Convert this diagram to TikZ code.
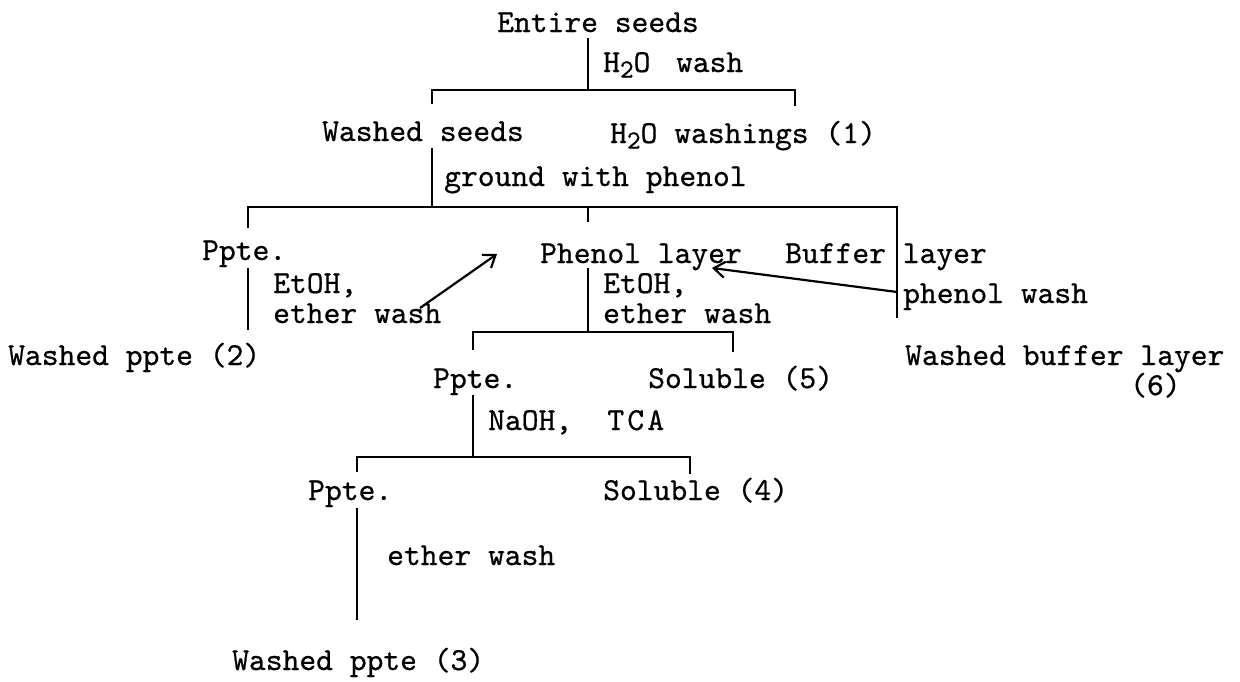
\documentclass[tikz,border=0pt]{standalone}
\usepackage{fontspec}
\usetikzlibrary{arrows.meta}
\newfontfamily\tw{lmmono10-regular.otf}[FakeBold=0.6]
\newcommand{\Hsub}{H\raisebox{-0.4ex}{\fontsize{26}{26}\selectfont 2}O}
\begin{document}
\begin{tikzpicture}[x=1pt,y=-1pt,
  lbl/.style={anchor=base west,inner sep=0pt,font=\fontsize{32}{36}\selectfont\tw},
  ln/.style={line width=2.5pt},
  arr/.style={line width=2.2pt,-{Straight Barb[length=11pt,width=16pt,line width=2.2pt]}}]
\useasboundingbox (0,0) rectangle (1240,681);
% texts
\node[lbl] (entire) at (497,32) {Entire seeds};
\node[lbl] (h2owash) at (603,72) {\Hsub\hspace{0.8em}wash};
\node[lbl] (washedseeds) at (322,141) {Washed seeds};
\node[lbl] (washings) at (610,143) {\Hsub{} washings (1)};
\node[lbl] (ground) at (444,186) {ground with phenol};
\node[lbl] (pptea) at (202,260) {Ppte.};
\node[lbl] (phenol) at (540,263) {Phenol layer};
\node[lbl] (buffer) at (785,263) {Buffer layer};
\node[lbl] (etoha) at (273,293) {EtOH,};
\node[lbl] (ethera) at (273,323) {ether wash};
\node[lbl] (etohb) at (603,293) {EtOH,};
\node[lbl] (etherb) at (603,323) {ether wash};
\node[lbl] (phenolwash) at (903,303) {phenol wash};
\node[lbl] (washedppteb) at (8,365) {Washed ppte (2)};
\node[lbl] (washedbuffer) at (905,365) {Washed buffer layer};
\node[lbl] (six) at (1130,395) {(6)};
\node[lbl] (ppteb) at (433,388) {Ppte.};
\node[lbl] (solfive) at (648,388) {Soluble (5)};
\node[lbl] (naoh) at (488,430) {NaOH,\hspace{1.1em}T\hspace{0.1em}C\hspace{0.1em}A};
\node[lbl] (pptec) at (308,500) {Ppte.};
\node[lbl] (solfour) at (603,500) {Soluble (4)};
\node[lbl] (etherc) at (387,565) {ether wash};
\node[lbl] (washedpptec) at (232,670) {Washed ppte (3)};
% coordinates
\coordinate (a0) at (588,38);   \coordinate (a1) at (588,90);
\coordinate (b0) at (432,90);   \coordinate (b1) at (795,90);
\coordinate (b0e) at (432,104); \coordinate (b1e) at (795,106);
\coordinate (c0) at (432,148);  \coordinate (c1) at (432,207);
\coordinate (d0) at (248,207);  \coordinate (d1) at (897,207);
\coordinate (d0e) at (248,228); \coordinate (dm) at (588,207); \coordinate (dme) at (588,222);
\coordinate (d1e) at (897,318);
\coordinate (e0) at (248,268);  \coordinate (e1) at (248,330);
\coordinate (f0) at (588,268);  \coordinate (f1) at (588,332);
\coordinate (g0) at (473,332);  \coordinate (g1) at (733,332);
\coordinate (g0e) at (473,350); \coordinate (g1e) at (733,352);
\coordinate (h0) at (473,395);  \coordinate (h1) at (473,457);
\coordinate (i0) at (357,457);  \coordinate (i1) at (690,457);
\coordinate (i0e) at (357,472); \coordinate (i1e) at (690,474);
\coordinate (k0) at (357,508);  \coordinate (k1) at (357,620);
\coordinate (p0) at (420,308);  \coordinate (p1) at (497,254);
\coordinate (q0) at (897,292);  \coordinate (q1) at (712,268);
% lines
\draw[ln] (a0) -- (a1);
\draw[ln] (b0e) -- (b0) -- (b1) -- (b1e);
\draw[ln] (c0) -- (c1);
\draw[ln] (d0e) -- (d0) -- (d1) -- (d1e);
\draw[ln] (dm) -- (dme);
\draw[ln] (e0) -- (e1);
\draw[ln] (f0) -- (f1);
\draw[ln] (g0e) -- (g0) -- (g1) -- (g1e);
\draw[ln] (h0) -- (h1);
\draw[ln] (i0e) -- (i0) -- (i1) -- (i1e);
\draw[ln] (k0) -- (k1);
\draw[arr] (p0) -- (p1);
\draw[arr] (q0) -- (q1);
\end{tikzpicture}
\end{document}
